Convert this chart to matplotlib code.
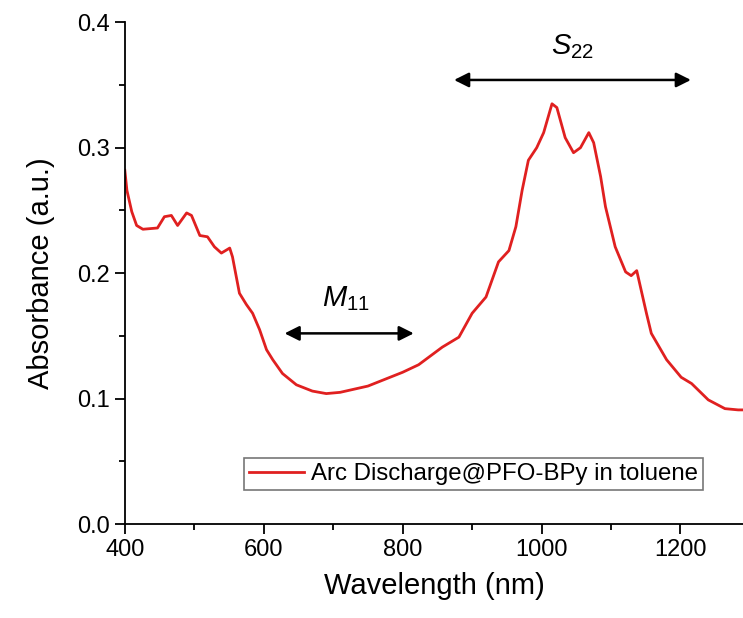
import numpy as np
import matplotlib
matplotlib.use("Agg")
import matplotlib.pyplot as plt
from matplotlib.ticker import MultipleLocator, FormatStrFormatter

# ── Data ──────────────────────────────────────────────────────
wavelength = [400, 403, 410, 417, 426, 447, 457, 467, 476, 489, 496, 508, 519,
              529, 539, 551, 555, 565, 575, 584, 594, 604, 613, 627, 647, 670,
              690, 710, 750, 800, 823, 857, 881, 900, 920, 938, 953, 963, 972,
              981, 993, 1003, 1015, 1022, 1034, 1046, 1056, 1068, 1075, 1085,
              1092, 1106, 1121, 1129, 1137, 1151, 1158, 1180, 1201, 1216, 1240,
              1264, 1283, 1290]
absorbance = [0.282, 0.266, 0.249, 0.238, 0.235, 0.236, 0.245, 0.246, 0.238,
              0.248, 0.246, 0.230, 0.229, 0.221, 0.216, 0.220, 0.213, 0.184,
              0.175, 0.168, 0.155, 0.139, 0.131, 0.120, 0.111, 0.106, 0.104,
              0.105, 0.110, 0.121, 0.127, 0.141, 0.149, 0.168, 0.181, 0.209,
              0.218, 0.237, 0.266, 0.290, 0.300, 0.312, 0.335, 0.332, 0.308,
              0.296, 0.300, 0.312, 0.304, 0.277, 0.253, 0.221, 0.201, 0.198,
              0.202, 0.168, 0.152, 0.131, 0.117, 0.112, 0.099, 0.092, 0.091,
              0.091]

m11_range = (630, 816)
m11_level = 0.152
s22_range = (874, 1215)
s22_level = 0.354

plt.rcParams["font.family"] = ["Liberation Sans", "DejaVu Sans"]
plt.rcParams["mathtext.fontset"] = "custom"
plt.rcParams["mathtext.it"] = "Liberation Sans:italic"
plt.rcParams["mathtext.rm"] = "Liberation Sans"

fig = plt.figure(figsize=(7.43, 6.18), dpi=100)
ax = fig.add_axes([0.168, 0.152, 0.832, 0.812])

ax.plot(wavelength, absorbance, color="#e02020", lw=2.0,
        label="Arc Discharge@PFO-BPy in toluene")

# ── Band annotations ──────────────────────────────────────────
arrow_kw = dict(arrowstyle="<|-|>", color="black", lw=1.8,
                mutation_scale=22, shrinkA=0, shrinkB=0)
ax.annotate("", xy=(m11_range[0], m11_level), xytext=(m11_range[1], m11_level),
            arrowprops=arrow_kw)
ax.annotate("", xy=(s22_range[0], s22_level), xytext=(s22_range[1], s22_level),
            arrowprops=arrow_kw)
ax.text(sum(m11_range) / 2 - 5, m11_level + 0.016, r"$M_{11}$", fontsize=21,
        ha="center", va="bottom")
ax.text(sum(s22_range) / 2, s22_level + 0.015, r"$S_{22}$", fontsize=21,
        ha="center", va="bottom")

ax.set_xlim(400, 1290)
ax.set_ylim(0, 0.4)
ax.xaxis.set_major_locator(MultipleLocator(200))
ax.xaxis.set_minor_locator(MultipleLocator(100))
ax.yaxis.set_major_locator(MultipleLocator(0.1))
ax.yaxis.set_minor_locator(MultipleLocator(0.05))
ax.yaxis.set_major_formatter(FormatStrFormatter("%.1f"))

for side in ["top", "right"]:
    ax.spines[side].set_visible(False)
for side in ["left", "bottom"]:
    ax.spines[side].set_linewidth(1.3)

ax.tick_params(which="major", direction="out", length=7, width=1.3,
               labelsize=17, pad=4)
ax.tick_params(which="minor", direction="out", length=4, width=1.3)

ax.set_xlabel("Wavelength (nm)", fontsize=21, labelpad=8)
ax.set_ylabel("Absorbance (a.u.)", fontsize=21, labelpad=16)

leg = ax.legend(loc="lower right", bbox_to_anchor=(0.935, 0.068),
                fontsize=17.3, frameon=True, fancybox=False, borderaxespad=0,
                handlelength=2.3, borderpad=0.2, handletextpad=0.3)
leg.get_frame().set_edgecolor("#555555")
leg.get_frame().set_linewidth(1.2)

plt.savefig("out.png", dpi=100)
